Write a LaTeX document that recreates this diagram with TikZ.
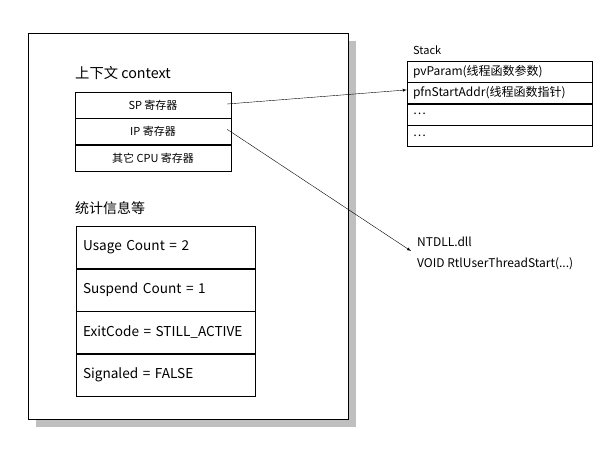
\documentclass[tikz,border=0pt]{standalone}
\usepackage{fontspec}
\setmainfont{Noto Sans CJK SC}
\usetikzlibrary{positioning}
\tikzset{
  ctxrow/.style={draw,minimum width=156pt,minimum height=26pt,inner sep=0pt,font=\fontsize{11}{12}\selectfont},
  statrow/.style={draw,text width=165pt,inner xsep=7pt,minimum height=42pt,align=left,font=\fontsize{13.6}{16}\selectfont},
  stackrow/.style={draw,text width=173pt,inner xsep=6pt,inner ysep=0pt,minimum height=21pt,align=left,font=\fontsize{12}{13}\selectfont},
  plain/.style={inner sep=0pt,anchor=west}
}
\begin{document}
\begin{tikzpicture}[x=1pt,y=-1pt]
\useasboundingbox (0,0) rectangle (616,449);
\fill[black!25] (36,41) rectangle (356,427);
\draw[fill=white,thick] (28,33) rectangle (348,419);

\node[plain,font=\fontsize{14.3}{16}\selectfont] (ctxlbl) at (75,73) {上下文 context};
\node[ctxrow] (sp) at (153,105) {SP 寄存器};
\node[ctxrow,below=0pt of sp] (ip) {IP 寄存器};
\node[ctxrow,below=0pt of ip] (cpu) {其它 CPU 寄存器};

\node[plain,font=\fontsize{14}{16}\selectfont] (statlbl) at (75,208) {统计信息等};
\node[statrow] (usage) at (165.5,247.5) {Usage Count = 2};
\node[statrow,below=0pt of usage] (susp) {Suspend Count = 1};
\node[statrow,below=0pt of susp] (exit) {\mbox{ExitCode = STILL\_ACTIVE}};
\node[statrow,below=0pt of exit] (sig) {Signaled = FALSE};

\node[plain,font=\fontsize{11}{12}\selectfont] (stacklbl) at (413,50) {Stack};
\node[stackrow] (param) at (499.5,71.5) {pvParam(线程函数参数)};
\node[stackrow,below=0pt of param] (addr) {pfnStartAddr(线程函数指针)};
\node[stackrow,below=0pt of addr] (dots1) {\dots};
\node[stackrow,below=0pt of dots1] (dots2) {\dots};

\node[plain,font=\fontsize{12}{13}\selectfont] (dll) at (417,242) {NTDLL.dll};
\node[plain,font=\fontsize{12}{13}\selectfont] (func) at (417,264) {VOID RtlUserThreadStart(...)};

\coordinate (tip) at (411,251);
\draw[-latex] ([xshift=-4pt,yshift=1pt]sp.east) -- ([yshift=3pt]addr.west);
\draw[-latex] ([xshift=-4pt,yshift=2pt]ip.east) -- (tip);
\end{tikzpicture}
\end{document}
